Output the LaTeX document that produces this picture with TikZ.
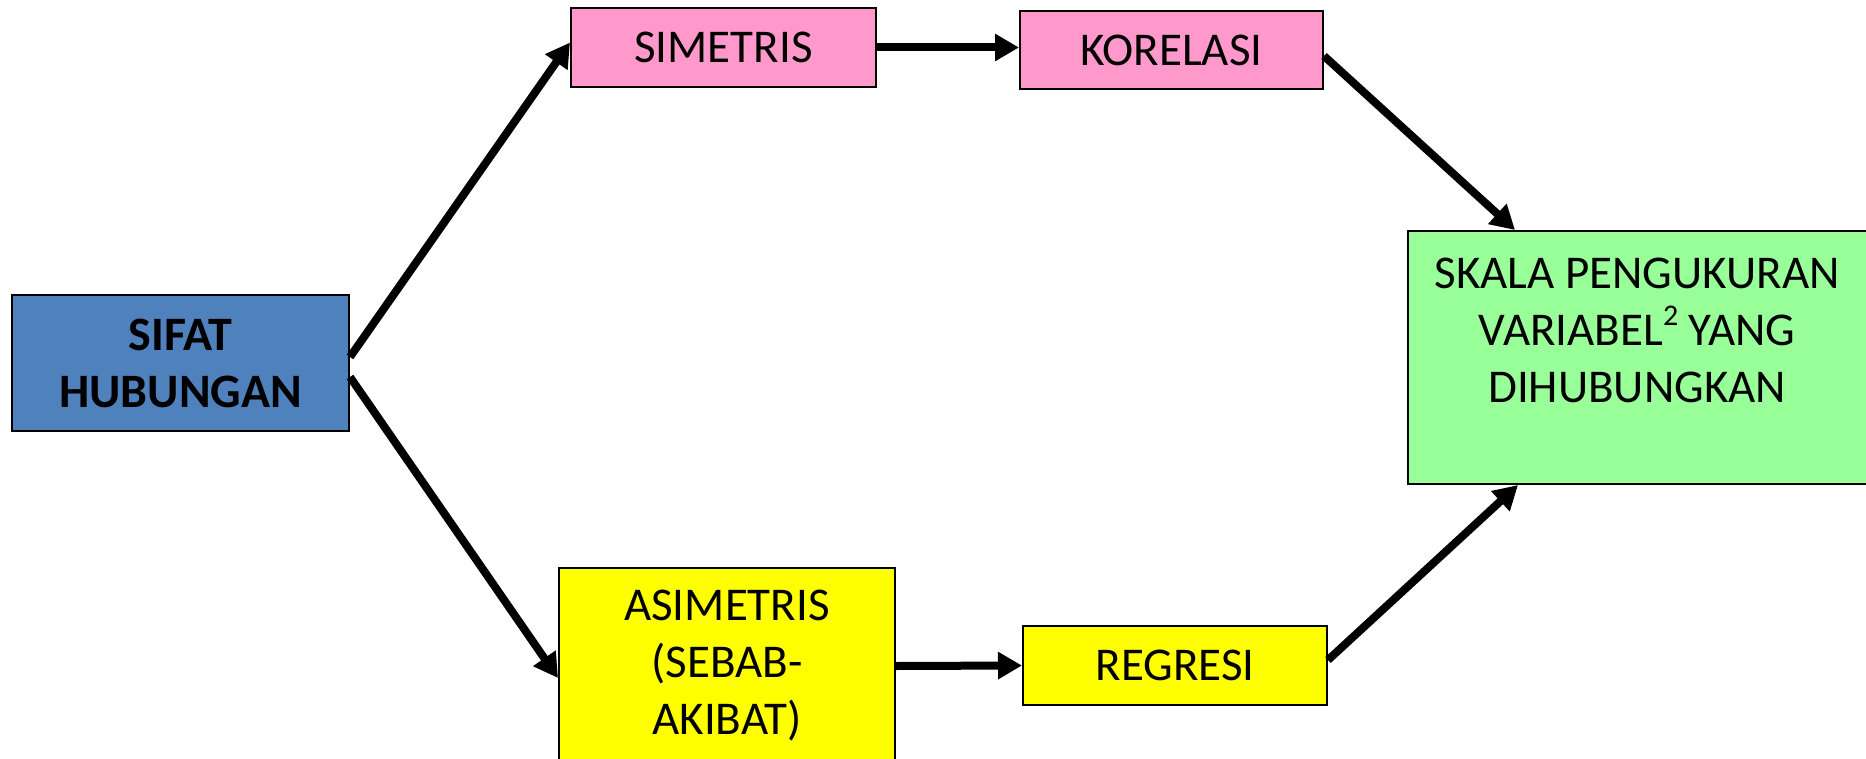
\documentclass[tikz,border=0pt]{standalone}
\usepackage{fontspec}
\setmainfont{Carlito}
\usepackage{xcolor}
\usepackage{tikz}
\usetikzlibrary{calc, positioning, arrows.meta}

\definecolor{biru}{RGB}{79,129,189}
\definecolor{merahmuda}{RGB}{255,153,204}
\definecolor{hijau}{RGB}{153,255,153}
\definecolor{kuning}{RGB}{255,255,0}

\tikzset{
    kotak/.style={draw=black, line width=1pt, inner sep=0pt, align=center,
        font=\fontsize{23.5}{28.5}\selectfont},
    panah/.style={->, line width=4pt}
}

\begin{document}
\begin{tikzpicture}[x=0.5pt, y=-0.5pt, >={Triangle[length=12pt,width=13pt]}]
    \useasboundingbox (0,0) rectangle (1866,759);

    % Kotak-kotak
    \node[kotak, fill=biru, minimum width=168.5pt, minimum height=68pt,
        font=\fontsize{24}{28.5}\selectfont\bfseries] (sifat) at (180.5,363) {SIFAT\\HUBUNGAN};
    \node[kotak, fill=merahmuda, minimum width=152.5pt, minimum height=39.5pt] (simetris) at (723.5,47.5) {SIMETRIS};
    \node[kotak, fill=merahmuda, minimum width=151.5pt, minimum height=39pt] (korelasi) at (1171.5,50) {KORELASI};
    \node[kotak, fill=kuning, minimum width=168pt, minimum height=98pt] (asimetris) at (727,666) {ASIMETRIS\\(SEBAB-\\AKIBAT)};
    \node[kotak, fill=kuning, minimum width=152pt, minimum height=39.5pt] (regresi) at (1175,665.5) {REGRESI};
    \node[kotak, fill=hijau, minimum width=230pt, minimum height=126.5pt] (skala) at (1638,357.5) {};
    \node[align=center, inner sep=0pt, font=\fontsize{23.5}{28.5}\selectfont] (skalateks) at (1637,330)
        {SKALA PENGUKURAN\\VARIABEL\raisebox{0.42em}{\fontsize{15}{15}\selectfont 2} YANG\\DIHUBUNGKAN};

    % Panah
    \draw[panah] ([yshift=3pt]sifat.east) -- ([yshift=2.5pt]simetris.west);
    \draw[panah] ([yshift=-7pt]sifat.east) -- ([yshift=-6pt]asimetris.west);
    \draw[panah] (simetris.east) -- (simetris.east -| korelasi.west);
    \draw[panah] (asimetris.east) -- (regresi.west);
    \draw[panah] ([yshift=-3pt]korelasi.east) -- ([xshift=-61.5pt]skala.north);
    \draw[panah] ([yshift=2.75pt]regresi.east) -- ([xshift=-60pt]skala.south);
\end{tikzpicture}
\end{document}
